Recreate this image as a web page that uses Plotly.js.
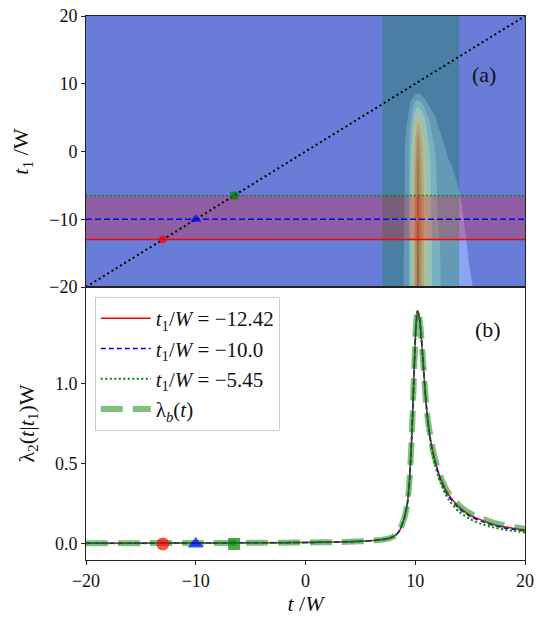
<!DOCTYPE html>
<html>
<head>
<meta charset="utf-8">
<script src="https://cdn.plot.ly/plotly-3.0.1.min.js"></script>
<style>html,body{margin:0;padding:0;background:#fff;}#chart{width:537px;height:618px;}</style>
</head>
<body>
<div id="chart"></div>
<script>
// ---------- data ----------
// panel (a): contour grid of lambda_2(t|t1) W
var tGrid  = [-20, 7, 8, 8.5, 9, 9.4, 9.7, 10, 10.25, 10.5, 10.8, 11.1, 11.5, 12, 12.5, 13, 14, 15, 16, 17, 18, 20];
var t1Grid = [-20, -13, -6.5, -2, 1, 3, 5, 6.5, 7.5, 8.5, 9.5, 20];
var zRowM20  = [0, 0.03, 0.07, 0.12, 0.21, 0.38, 0.75, 1.2, 1.5, 1.25, 1.0, 0.8, 0.61, 0.46, 0.37, 0.32, 0.26, 0.21, 0.17, 0.14, 0.12, 0.09];
var zRowM13  = [0, 0.03, 0.07, 0.12, 0.205, 0.38, 0.75, 1.2, 1.48, 1.25, 1.0, 0.79, 0.6, 0.44, 0.35, 0.3, 0.235, 0.18, 0.15, 0.12, 0.1, 0.08];
var zRowM6_5 = [0, 0.03, 0.07, 0.12, 0.19, 0.38, 0.75, 1.2, 1.47, 1.24, 0.98, 0.77, 0.57, 0.39, 0.32, 0.27, 0.205, 0.16, 0.13, 0.11, 0.09, 0.07];
var zRowM2   = [0, 0.03, 0.06, 0.1, 0.18, 0.36, 0.72, 1.15, 1.45, 1.2, 0.95, 0.74, 0.54, 0.37, 0.29, 0.22, 0.15, 0.11, 0.08, 0.06, 0.05, 0.04];
var zRowP1   = [0, 0.02, 0.05, 0.09, 0.17, 0.33, 0.65, 1.05, 1.35, 1.12, 0.88, 0.68, 0.47, 0.3, 0.22, 0.16, 0.1, 0.06, 0.04, 0.03, 0.02, 0.01];
var zRowP3   = [0, 0.02, 0.04, 0.07, 0.14, 0.28, 0.56, 0.92, 1.19, 1.0, 0.77, 0.57, 0.39, 0.24, 0.16, 0.1, 0.05, 0.03, 0.02, 0.01, 0.01, 0];
var zRowP5   = [0, 0.01, 0.03, 0.06, 0.12, 0.22, 0.45, 0.75, 0.9, 0.8, 0.62, 0.45, 0.3, 0.17, 0.1, 0.06, 0.03, 0.01, 0, 0, 0, 0];
var zRowP6_5 = [0, 0.01, 0.02, 0.04, 0.08, 0.18, 0.34, 0.53, 0.62, 0.55, 0.42, 0.28, 0.15, 0.07, 0.04, 0.02, 0.01, 0, 0, 0, 0, 0];
var zRowP7_5 = [0, 0, 0.01, 0.02, 0.05, 0.12, 0.24, 0.37, 0.42, 0.37, 0.26, 0.16, 0.08, 0.04, 0.02, 0.01, 0, 0, 0, 0, 0, 0];
var zRowP8_5 = [0, 0, 0, 0, 0.02, 0.05, 0.1, 0.18, 0.21, 0.18, 0.12, 0.07, 0.03, 0.01, 0, 0, 0, 0, 0, 0, 0, 0];
var zRowP9_5 = [0, 0, 0, 0, 0, 0.01, 0.02, 0.03, 0.05, 0.04, 0.02, 0.01, 0, 0, 0, 0, 0, 0, 0, 0, 0, 0];
var zRowP20  = [0, 0, 0, 0, 0, 0, 0, 0, 0, 0, 0, 0, 0, 0, 0, 0, 0, 0, 0, 0, 0, 0];

var axisRange  = [-20, 20];
var bandT      = [7, 14];        // vertical shaded band
var bandT1     = [-13, -6.5];    // horizontal shaded band
var markerT1   = [-13, -10, -6.5];
var markerZero = [0, 0, 0];

// panel (b): curves
var tCurve = [-20, -15, -10, -5, 0, 3, 5, 6, 7, 7.5, 8, 8.5, 9, 9.3, 9.5, 9.7, 9.9, 10.05, 10.2, 10.35, 10.5, 10.7, 10.9, 11.1, 11.4, 11.8, 12.3, 13, 14, 15, 16, 17, 18, 19, 20];
var lamRed   = [0.004, 0.005, 0.006, 0.007, 0.009, 0.012, 0.016, 0.02, 0.027, 0.033, 0.045, 0.075, 0.16, 0.26, 0.42, 0.7, 1.08, 1.34, 1.45, 1.42, 1.33, 1.15, 0.95, 0.8, 0.65, 0.52, 0.41, 0.31, 0.23, 0.18, 0.15, 0.125, 0.108, 0.097, 0.087];
var lamBlue  = [0.004, 0.005, 0.006, 0.007, 0.009, 0.012, 0.016, 0.02, 0.027, 0.033, 0.045, 0.075, 0.16, 0.26, 0.42, 0.7, 1.08, 1.34, 1.45, 1.42, 1.33, 1.15, 0.95, 0.8, 0.64, 0.51, 0.4, 0.3, 0.22, 0.172, 0.142, 0.118, 0.102, 0.09, 0.081];
var lamGreen = [0.004, 0.005, 0.006, 0.007, 0.009, 0.012, 0.016, 0.02, 0.027, 0.033, 0.045, 0.075, 0.16, 0.26, 0.42, 0.7, 1.08, 1.34, 1.45, 1.42, 1.33, 1.15, 0.95, 0.79, 0.62, 0.49, 0.38, 0.28, 0.2, 0.155, 0.125, 0.105, 0.09, 0.08, 0.072];
var lamB     = [0.004, 0.005, 0.006, 0.007, 0.009, 0.012, 0.016, 0.02, 0.027, 0.033, 0.045, 0.075, 0.16, 0.26, 0.42, 0.7, 1.08, 1.34, 1.45, 1.42, 1.33, 1.15, 0.95, 0.8, 0.66, 0.53, 0.42, 0.32, 0.24, 0.19, 0.16, 0.135, 0.118, 0.105, 0.095];

var legendNames = [
  '<i>t</i><sub>1</sub>/<i>W</i> = \u221212.42',
  '<i>t</i><sub>1</sub>/<i>W</i> = \u221210.0',
  '<i>t</i><sub>1</sub>/<i>W</i> = \u22125.45',
  '\u03bb<sub><i>b</i></sub>(<i>t</i>)'
];

// ---------- styling ----------
var FONT = 'Liberation Serif, Times New Roman, serif';
var bandColors = ['rgb(105,125,216)','rgb(137,165,243)','rgb(169,195,254)','rgb(205,221,247)',
                  'rgb(244,215,200)','rgb(248,185,161)','rgb(233,147,127)','rgb(207,95,95)'];
var stops = [0, 0.0714, 0.2143, 0.3571, 0.5, 0.6429, 0.7857, 0.9286, 1];
var cscale = [];
for (var i = 0; i < bandColors.length; i++) {
  cscale.push([stops[i], bandColors[i]]);
  cscale.push([stops[i+1], bandColors[i]]);
}

function rect(xs, ys) {
  return {x: [xs[0], xs[1], xs[1], xs[0], xs[0]], y: [ys[0], ys[0], ys[1], ys[1], ys[0]]};
}
var vb = rect(bandT, axisRange);
var hb = rect(axisRange, bandT1);
var mColors = ['red', 'blue', 'green'];
var mSymbols = ['circle', 'triangle-up', 'square'];

var traces = [
  {type: 'contour', x: tGrid, y: t1Grid,
   z: [zRowM20, zRowM13, zRowM6_5, zRowM2, zRowP1, zRowP3, zRowP5, zRowP6_5, zRowP7_5, zRowP8_5, zRowP9_5, zRowP20],
   contours: {start: 0.2, end: 1.4, size: 0.2, coloring: 'fill', showlines: false},
   line: {width: 0, smoothing: 1}, colorscale: cscale, showscale: false,
   hoverinfo: 'skip', showlegend: false, xaxis: 'x', yaxis: 'y'},
  {type: 'scatter', mode: 'lines', x: vb.x, y: vb.y, fill: 'toself',
   fillcolor: 'rgba(0,128,30,0.28)', line: {width: 0}, showlegend: false, hoverinfo: 'skip', xaxis: 'x', yaxis: 'y'},
  {type: 'scatter', mode: 'lines', x: hb.x, y: hb.y, fill: 'toself',
   fillcolor: 'rgba(255,0,0,0.25)', line: {width: 0}, showlegend: false, hoverinfo: 'skip', xaxis: 'x', yaxis: 'y'},
  {type: 'scatter', mode: 'lines', x: axisRange, y: axisRange,
   line: {color: 'black', width: 2, dash: '2px,3px'}, showlegend: false, xaxis: 'x', yaxis: 'y'},
  {type: 'scatter', mode: 'lines', x: axisRange, y: [markerT1[0], markerT1[0]],
   line: {color: 'red', width: 1.5}, showlegend: false, xaxis: 'x', yaxis: 'y'},
  {type: 'scatter', mode: 'lines', x: axisRange, y: [markerT1[1], markerT1[1]],
   line: {color: 'blue', width: 1.5, dash: '6px,3px'}, showlegend: false, xaxis: 'x', yaxis: 'y'},
  {type: 'scatter', mode: 'lines', x: axisRange, y: [markerT1[2], markerT1[2]],
   line: {color: 'green', width: 1.5, dash: '1.5px,2.5px'}, showlegend: false, xaxis: 'x', yaxis: 'y'},
  {type: 'scatter', mode: 'markers', x: markerT1, y: markerT1,
   marker: {color: mColors, symbol: mSymbols, size: [8, 10, 8], line: {width: 0}},
   showlegend: false, xaxis: 'x', yaxis: 'y'},

  // panel (b)
  {type: 'scatter', mode: 'lines', x: tCurve, y: lamRed, name: legendNames[0],
   line: {color: 'red', width: 1.5, shape: 'spline', smoothing: 0.6}, xaxis: 'x2', yaxis: 'y2'},
  {type: 'scatter', mode: 'lines', x: tCurve, y: lamBlue, name: legendNames[1],
   line: {color: 'blue', width: 1.5, dash: '5px,3px', shape: 'spline', smoothing: 0.6}, xaxis: 'x2', yaxis: 'y2'},
  {type: 'scatter', mode: 'lines', x: tCurve, y: lamGreen, name: legendNames[2],
   line: {color: 'green', width: 2, dash: '2px,2.5px', shape: 'spline', smoothing: 0.6}, xaxis: 'x2', yaxis: 'y2'},
  {type: 'scatter', mode: 'lines', x: tCurve, y: lamB, name: legendNames[3],
   line: {color: 'rgba(0,128,0,0.5)', width: 6, dash: '22px,10px', shape: 'spline', smoothing: 0.6}, xaxis: 'x2', yaxis: 'y2'},
  {type: 'scatter', mode: 'markers', x: markerT1, y: markerZero,
   marker: {color: mColors, symbol: mSymbols, size: [13, 14, 12], line: {width: 0}},
   showlegend: false, xaxis: 'x2', yaxis: 'y2'}
];

var tickFont = {family: FONT, size: 18, color: '#111'};
var titleFont = {family: FONT, size: 22, color: '#111'};
var axBase = {showgrid: false, zeroline: false, showline: true, mirror: true, linecolor: '#222', linewidth: 1,
              ticks: 'outside', ticklen: 4, tickcolor: '#222', tickfont: tickFont};

var layout = {
  width: 537, height: 618,
  margin: {l: 86, r: 12, t: 16, b: 58},
  paper_bgcolor: '#fff', plot_bgcolor: '#fff',
  showlegend: true,
  xaxis: Object.assign({}, axBase, {domain: [0, 1], range: axisRange, anchor: 'y', showticklabels: false, ticks: ''}),
  yaxis: Object.assign({}, axBase, {domain: [0.5018, 1], range: axisRange, anchor: 'x', dtick: 10,
          title: {text: '<i>t</i><sub>1</sub> /W', font: titleFont, standoff: 14}}),
  xaxis2: Object.assign({}, axBase, {domain: [0, 1], range: axisRange, anchor: 'y2', dtick: 10,
          title: {text: '<i>t</i> /<i>W</i>', font: titleFont, standoff: 6}}),
  yaxis2: Object.assign({}, axBase, {domain: [0, 0.5018], range: [-0.1, 1.6], anchor: 'x2',
          tickvals: [0, 0.5, 1.0], tickformat: '.1f',
          title: {text: '\u03bb<sub>2</sub>(<i>t</i>|<i>t</i><sub>1</sub>)W', font: titleFont, standoff: 14}}),
  legend: {x: 0.02, y: 0.4835, xanchor: 'left', yanchor: 'top', bgcolor: 'rgba(255,255,255,0.85)',
           bordercolor: '#ccc', borderwidth: 1, itemwidth: 50,
           font: {family: FONT, size: 21, color: '#111'}},
  annotations: [
    {text: '(a)', xref: 'paper', yref: 'paper', x: 0.907, y: 0.893, xanchor: 'center', yanchor: 'middle',
     showarrow: false, font: {family: FONT, size: 22, color: '#111'}},
    {text: '(b)', xref: 'paper', yref: 'paper', x: 0.915, y: 0.423, xanchor: 'center', yanchor: 'middle',
     showarrow: false, font: {family: FONT, size: 22, color: '#111'}}
  ]
};

Plotly.newPlot('chart', traces, layout, {staticPlot: true, displayModeBar: false});
</script>
</body>
</html>
